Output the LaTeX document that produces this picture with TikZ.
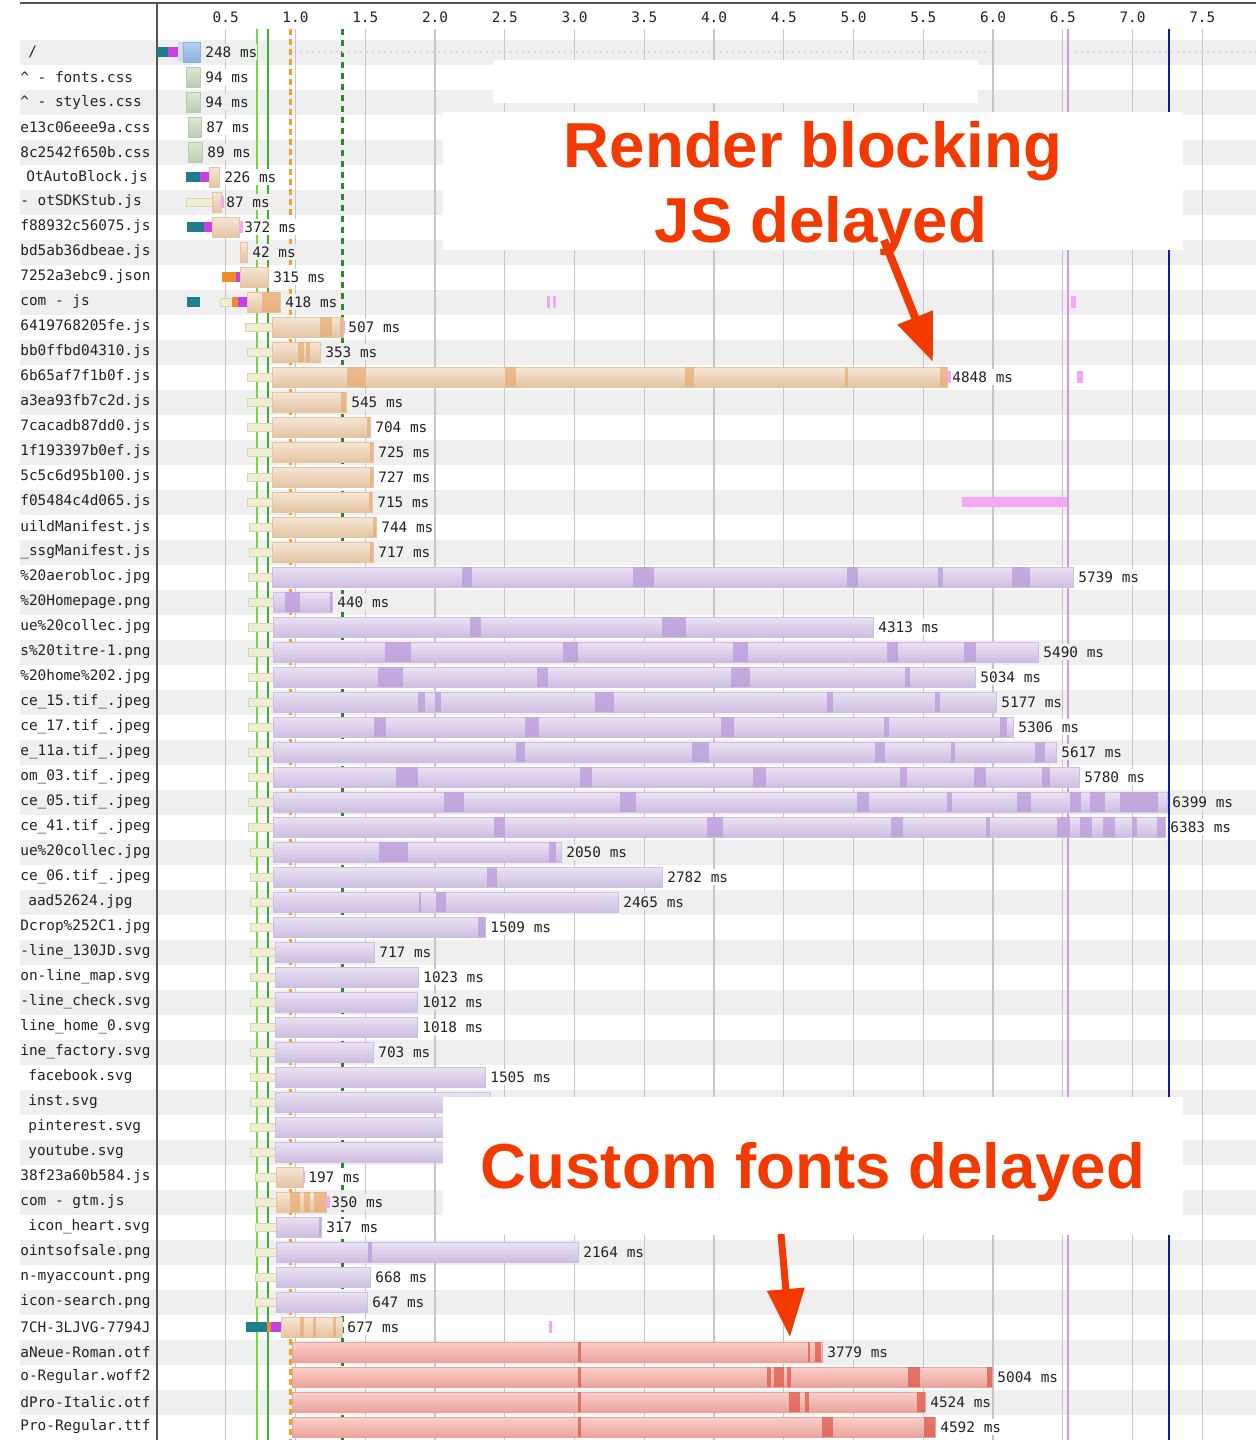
\documentclass[tikz,border=0pt]{standalone}
\usepackage{fontspec}
\setmainfont{Liberation Sans}
\newfontfamily\monofont{DejaVu Sans Mono}
\usetikzlibrary{arrows.meta}

\definecolor{stripegray}{HTML}{EFEFEF}
\definecolor{gridgray}{HTML}{C6C6C6}
\definecolor{framegray}{HTML}{555555}
\definecolor{txtgray}{HTML}{222222}
\definecolor{htmltop}{HTML}{B8D0F0}
\definecolor{htmlbot}{HTML}{8CB0E0}
\definecolor{htmllight}{HTML}{D0DCEC}
\definecolor{connteal}{HTML}{1E7E8C}
\definecolor{connorange}{HTML}{F08C28}
\definecolor{connmagenta}{HTML}{C840E0}
\definecolor{csstop}{HTML}{DCEAD4}
\definecolor{cssbot}{HTML}{B8CCB0}
\definecolor{jstop}{HTML}{F6E6D6}
\definecolor{jsbot}{HTML}{E4C4A2}
\definecolor{jschunk}{HTML}{E8AE74}
\definecolor{waitcream}{HTML}{F0EDD2}
\definecolor{waitedge}{HTML}{D8D4B0}
\definecolor{imgtop}{HTML}{EAE2F2}
\definecolor{imgbot}{HTML}{CEBEE2}
\definecolor{imgchunk}{HTML}{BC9EDC}
\definecolor{fonttop}{HTML}{FAD0CA}
\definecolor{fontbot}{HTML}{E8A49C}
\definecolor{fontchunk}{HTML}{E0584A}
\definecolor{pinkmark}{HTML}{F4A8F4}
\definecolor{greenA}{HTML}{7CD444}
\definecolor{greenB}{HTML}{3CB034}
\definecolor{dkgreen}{HTML}{2A8A2A}
\definecolor{markorange}{HTML}{F4A030}
\definecolor{violetline}{HTML}{D494E8}
\definecolor{blueline}{HTML}{1414B4}
\definecolor{notered}{HTML}{F23A00}

\newcommand\wfont{\monofont\fontsize{7.2}{8.6}\selectfont}
\newcommand\notefont{\bfseries\fontsize{31.8}{37.5}\selectfont}

\tikzset{
  rowname/.style={anchor=west, inner sep=0pt, font=\wfont, text=txtgray},
  mslabel/.style={anchor=west, inner xsep=0pt, inner ysep=1.5pt, font=\wfont, text=txtgray},
  rowbg/.code={\ifodd#1\relax\tikzset{fill=stripegray}\else\tikzset{fill=white}\fi},
  ticklabel/.style={inner sep=0pt, font=\wfont, text=txtgray},
  gridline/.style={draw=gridgray, line width=0.6pt},
  htmlbar/.style={top color=htmltop, bottom color=htmlbot, draw=htmlbot, line width=0.2pt},
  cssbar/.style={top color=csstop, bottom color=cssbot, draw=cssbot, line width=0.2pt},
  jsbar/.style={top color=jstop, bottom color=jsbot, draw=jsbot, line width=0.2pt},
  imgbar/.style={top color=imgtop, bottom color=imgbot, draw=imgbot, line width=0.2pt},
  fontbar/.style={top color=fonttop, bottom color=fontbot, draw=fontbot, line width=0.2pt},
  waitbar/.style={fill=waitcream, draw=waitedge, line width=0.2pt},
  notetext/.style={inner sep=0pt, text=notered, font=\notefont, align=center},
  notearrow/.style={draw=notered, line cap=butt},
}

\begin{document}
\begin{tikzpicture}[x=0.5pt, y=-0.5pt]
\useasboundingbox (0,0) rectangle (1256,1440);
\fill[white] (0,0) rectangle (1256,1440);

% row stripes
\foreach \i in {1,3,...,55}
  \fill[stripegray] (20,{14.5+25*\i}) rectangle (1256,{39.5+25*\i});

% time axis
\foreach \t [count=\k] in {0.5,1.0,1.5,2.0,2.5,3.0,3.5,4.0,4.5,5.0,5.5,6.0,6.5,7.0,7.5} {
  \draw[gridline] ({156+139.5*\t},29) -- ({156+139.5*\t},1440);
  \node[ticklabel] (tick\k) at ({156+139.5*\t},17) {\t};
}
\draw[framegray, line width=1.2pt] (20,3) -- (1256,3);
\draw[framegray, line width=1pt] (157,3) -- (157,1440);

% event lines
\draw[greenA, line width=1.2pt] (257,29) -- (257,1440);
\draw[greenB, line width=1.2pt] (268,29) -- (268,1440);
\draw[markorange, line width=1.5pt, dash pattern=on 3pt off 2pt] (290,29) -- (290,1440);
\draw[dkgreen, line width=1.5pt, dash pattern=on 3pt off 2.5pt] (342,29) -- (342,1440);
\draw[violetline, line width=1.2pt] (1068,29) -- (1068,1440);
\draw[blueline, line width=1.3pt] (1169,29) -- (1169,1440);
\draw[pinkmark!70, line width=0.8pt, dash pattern=on 1pt off 2pt] (300,52) -- (990,52);
\draw[pinkmark!70, line width=0.8pt, dash pattern=on 1pt off 2pt] (1075,52) -- (1256,52);

% request names
\node[rowname] (name1) at (28,52) {/};
\foreach \i/\x/\fname in {
  2/20/{\textasciicircum{} - fonts.css}, 3/20/{\textasciicircum{} - styles.css},
  4/20/e13c06eee9a.css, 5/20/8c2542f650b.css, 6/26/OtAutoBlock.js,
  7/20/- otSDKStub.js, 8/20/f88932c56075.js, 9/20/bd5ab36dbeae.js,
  10/20/7252a3ebc9.json, 11/20/com - js, 12/20/6419768205fe.js,
  13/20/bb0ffbd04310.js, 14/20/6b65af7f1b0f.js, 15/20/a3ea93fb7c2d.js,
  16/20/7cacadb87dd0.js, 17/20/1f193397b0ef.js, 18/20/5c5c6d95b100.js,
  19/20/f05484c4d065.js, 20/20/uildManifest.js, 21/20/\_ssgManifest.js,
  22/20/\%20aerobloc.jpg, 23/20/\%20Homepage.png, 24/20/ue\%20collec.jpg,
  25/20/s\%20titre-1.png, 26/20/\%20home\%202.jpg, 27/20/ce\_15.tif\_.jpeg,
  28/20/ce\_17.tif\_.jpeg, 29/20/e\_11a.tif\_.jpeg, 30/20/om\_03.tif\_.jpeg,
  31/20/ce\_05.tif\_.jpeg, 32/20/ce\_41.tif\_.jpeg, 33/20/ue\%20collec.jpg,
  34/20/ce\_06.tif\_.jpeg, 35/28/aad52624.jpg, 36/20/Dcrop\%252C1.jpg,
  37/20/-line\_130JD.svg, 38/20/on-line\_map.svg, 39/20/-line\_check.svg,
  40/20/line\_home\_0.svg, 41/20/ine\_factory.svg, 42/28/facebook.svg,
  43/28/inst.svg, 44/28/pinterest.svg, 45/28/youtube.svg,
  46/20/38f23a60b584.js, 47/20/com - gtm.js, 48/28/icon\_heart.svg,
  49/20/ointsofsale.png, 50/20/n-myaccount.png, 51/20/icon-search.png,
  52/20/7CH-3LJVG-7794J, 53/20/aNeue-Roman.otf, 54/20/o-Regular.woff2,
  55/20/dPro-Italic.otf, 56/20/Pro-Regular.ttf}
  \node[rowname] (name\i) at (\x,{27+25*\i}) {\fname};

% waiting
\foreach \i/\s/\e in {7/186/212, 11/220/232, 12/245/272, 13/247/272, 14/247/272,
  15/247/272, 16/247/272, 17/247/272, 18/247/272, 19/247/272, 20/249/272,
  21/249/272, 22/248/272, 23/248/273, 24/248/273, 25/248/273, 26/248/273,
  27/248/273, 28/248/273, 29/248/273, 30/248/273, 31/248/273, 32/248/273,
  33/250/273, 34/250/273, 35/250/273, 36/250/273, 37/250/275, 38/250/275,
  39/250/275, 40/250/275, 41/250/275, 42/250/275, 43/250/275, 44/250/275,
  45/250/275, 46/255/276, 47/255/276, 48/255/276, 49/255/276, 50/255/276,
  51/255/276}
  \path[waitbar] (\s,{23+25*\i}) rectangle (\e,{31+25*\i});

% connecting
\foreach \i/\s/\e in {1/157/168, 6/186/200, 8/187/204, 11/187/200, 52/246/267}
  \fill[connteal] (\s,{22+25*\i}) rectangle (\e,{32+25*\i});
\foreach \i/\s/\e in {10/222/236, 11/232/238, 52/267/271}
  \fill[connorange] (\s,{22+25*\i}) rectangle (\e,{32+25*\i});
\foreach \i/\s/\e in {1/168/178, 6/200/209, 8/204/212, 10/236/240, 11/238/247, 52/271/281}
  \fill[connmagenta] (\s,{22+25*\i}) rectangle (\e,{32+25*\i});

% html
\fill[htmllight] (178,42) rectangle (183,62);
\path[htmlbar] (183,42) rectangle (200,62);
\node[mslabel, rowbg=1] (ms1) at (205,52) {248 ms};

% css
\foreach \i/\s/\e/\ms in {2/186/200/94, 3/186/200/94, 4/188/201/87, 5/188/202/89} {
  \path[cssbar] (\s,{17+25*\i}) rectangle (\e,{37+25*\i});
  \node[mslabel, rowbg=\i] (ms\i) at ({\e+5},{27+25*\i}) {\ms\ ms};
}

% scripts
\foreach \i/\s/\e/\ms in {6/209/219/226, 7/212/221/87, 8/212/239/372, 9/240/247/42,
  10/240/268/315, 11/247/280/418, 12/272/343/507, 13/272/320/353, 14/272/947/4848,
  15/272/346/545, 16/272/370/704, 17/272/373/725, 18/272/373/727, 19/272/372/715,
  20/272/376/744, 21/272/373/717, 46/276/303/197, 47/276/326/350, 52/281/342/677} {
  \path[jsbar] (\s,{17+25*\i}) rectangle (\e,{37+25*\i});
  \node[mslabel, rowbg=\i] (ms\i) at ({\e+5},{27+25*\i}) {\ms\ ms};
}
\foreach \i/\s/\e in {11/262/280, 12/320/332, 12/340/343, 13/298/304, 13/306/310,
  14/347/366, 14/505/516, 14/685/694, 14/845/848, 14/940/947, 15/341/346,
  16/367/370, 17/370/373, 18/370/373, 19/369/372, 20/373/376, 21/370/373,
  47/290/300, 47/304/310, 47/314/326, 52/300/304, 52/313/316, 52/333/336}
  \fill[jschunk, opacity=.75] (\s,{17+25*\i}) rectangle (\e,{37+25*\i});

% images
\foreach \i/\s/\e/\ms in {22/272/1073/5739, 23/273/332/440, 24/273/873/4313,
  25/273/1038/5490, 26/273/975/5034, 27/273/996/5177, 28/273/1013/5306,
  29/273/1056/5617, 30/273/1079/5780, 31/273/1167/6399, 32/273/1165/6383,
  33/273/561/2050, 34/273/662/2782, 35/273/618/2465, 36/273/485/1509,
  37/275/374/717, 38/275/418/1023, 39/275/417/1012, 40/275/417/1018,
  41/275/373/703, 42/275/485/1505, 48/276/321/317, 49/276/578/2164,
  50/276/370/668, 51/276/367/647} {
  \path[imgbar] (\s,{17+25*\i}) rectangle (\e,{37+25*\i});
  \node[mslabel, rowbg=\i] (ms\i) at ({\e+5},{27+25*\i}) {\ms\ ms};
}
\foreach \i/\e in {43/490, 44/480, 45/480}
  \path[imgbar] (275,{17+25*\i}) rectangle (\e,{37+25*\i});
\foreach \i/\s/\e in {22/462/472, 22/633/654, 22/847/858, 22/938/943, 22/1012/1030,
  23/285/300, 23/330/332, 24/470/481, 24/662/686,
  25/385/411, 25/563/578, 25/733/748, 25/887/898, 25/964/976,
  26/378/403, 26/537/548, 26/731/750, 26/905/910,
  27/418/425, 27/435/441, 27/595/614, 27/827/833, 27/935/940,
  28/374/386, 28/525/539, 28/721/734, 28/884/889, 28/1000/1007,
  29/516/525, 29/692/709, 29/875/885, 29/951/955, 29/1035/1045,
  30/396/418, 30/580/592, 30/753/766, 30/900/907, 30/974/986, 30/1042/1050,
  31/444/464, 31/620/636, 31/857/869, 31/947/952, 31/1017/1031, 31/1070/1081,
  31/1090/1105, 31/1120/1158,
  32/494/505, 32/707/723, 32/891/903, 32/986/990, 32/1057/1070, 32/1080/1092,
  32/1103/1115, 32/1132/1137, 32/1157/1165,
  33/379/408, 33/549/556, 34/487/497, 35/419/421, 35/436/446, 36/478/485,
  48/319/321, 49/368/372}
  \fill[imgchunk, opacity=.8] (\s,{17+25*\i}) rectangle (\e,{37+25*\i});

% fonts
\foreach \i/\s/\e/\ms in {53/292/822/3779, 54/292/992/5004, 55/292/925/4524, 56/292/935/4592} {
  \path[fontbar] (\s,{17+25*\i}) rectangle (\e,{37+25*\i});
  \node[mslabel, rowbg=\i] (ms\i) at ({\e+5},{27+25*\i}) {\ms\ ms};
}
\foreach \i/\s/\e in {53/578/581, 53/808/810, 53/815/821,
  54/578/581, 54/767/771, 54/774/784, 54/787/791, 54/908/920, 54/987/992,
  55/578/581, 55/789/800, 55/805/809, 55/917/925,
  56/578/581, 56/822/833, 56/924/935}
  \fill[fontchunk, opacity=.75] (\s,{17+25*\i}) rectangle (\e,{37+25*\i});

% small marks
\foreach \i/\s/\e in {7/221/224, 8/239/243, 11/547/550, 11/553/556, 11/1071/1076,
  12/343/345, 14/947/951, 14/1077/1083, 46/303/305, 47/326/330, 52/549/552}
  \fill[pinkmark] (\s,{21+25*\i}) rectangle (\e,{33+25*\i});
\fill[pinkmark] (962,497) rectangle (1067,507);

% notes
\fill[white] (493,60) rectangle (978,103);
\fill[white] (443,112) rectangle (1183,250);
\fill[white] (443,1097) rectangle (1183,1235);
\node[notetext] (jsnote) at (813,189) {Render blocking\\\hspace*{8pt}JS delayed};
\node[notetext] (fontnote) at (813,1172) {Custom fonts delayed};

\coordinate (jsfrom) at (884,240);
\coordinate (jstip) at (933,362);
\coordinate (fontfrom) at (781,1234);
\coordinate (fonttip) at (790,1337);
\draw[notearrow, line width=4pt, -{Triangle[length=24pt,width=18pt]}] (jsfrom) -- (jstip);
\draw[notearrow, line width=3.5pt, -{Triangle[length=24pt,width=18pt]}] (fontfrom) -- (fonttip);
\end{tikzpicture}
\end{document}
